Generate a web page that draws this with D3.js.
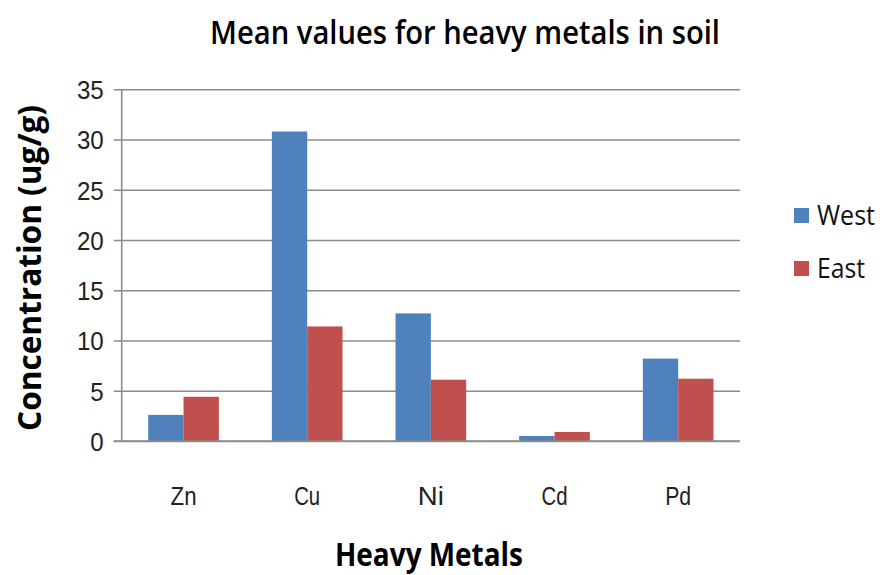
<!DOCTYPE html>
<html>
<head>
<meta charset="utf-8">
<script src="https://cdn.jsdelivr.net/npm/d3@7/dist/d3.min.js"></script>
<style>
  html, body { margin: 0; padding: 0; background: #fff; }
  svg { display: block; font-family: "Open Sans", "DejaVu Sans", sans-serif; }
</style>
</head>
<body>
<svg id="chart" width="880" height="575"></svg>
<script>
// Mean heavy-metal concentrations (ug/g) by site
const categories = ["Zn", "Cu", "Ni", "Cd", "Pd"];
const seriesNames = ["West", "East"];
const westValues = [2.6, 30.8, 12.7, 0.5, 8.2];
const eastValues = [4.4, 11.4, 6.1, 0.9, 6.2];
const yTicks = [0, 5, 10, 15, 20, 25, 30, 35];
const colors = { West: "#4F81BD", East: "#C0504D" };

const svg = d3.select("#chart");
const plot = { left: 121.7, right: 740, top: 89.3, bottom: 441 };

const y = d3.scaleLinear().domain([0, 35]).range([plot.bottom, plot.top]);
const x0 = d3.scaleBand().domain(categories).range([plot.left, plot.right]).padding(0);
const x1 = d3.scaleBand().domain(seriesNames).range([0, x0.bandwidth()])
  .paddingInner(0).paddingOuter(0.75);

const rows = categories.map((c, i) => ({ cat: c, West: westValues[i], East: eastValues[i] }));

// horizontal gridlines with short ticks left of the axis
const yAxis = d3.axisLeft(y).tickValues(yTicks)
  .tickSize(-(plot.right - plot.left)).tickSizeOuter(0).tickPadding(18);
const gy = svg.append("g").attr("transform", `translate(${plot.left},0)`).call(yAxis);
gy.select(".domain").remove();
gy.selectAll(".tick line")
  .attr("x1", -8)
  .attr("stroke", "#8c8c8c").attr("stroke-width", 1.6);
gy.selectAll(".tick text")
  .attr("font-size", 26).attr("fill", "#222")
  .attr("dy", "0.36em")
  .each(function () {
    const t = d3.select(this);
    t.attr("textLength", t.text().length * 13.4).attr("lengthAdjust", "spacingAndGlyphs");
  });

// vertical axis line
svg.append("line")
  .attr("x1", plot.left).attr("x2", plot.left)
  .attr("y1", y(35)).attr("y2", y(0))
  .attr("stroke", "#8c8c8c").attr("stroke-width", 1.6);

// bars
const groups = svg.append("g").selectAll("g").data(rows).join("g")
  .attr("transform", d => `translate(${x0(d.cat)},0)`);
groups.selectAll("rect")
  .data(d => seriesNames.map(s => ({ s, v: d[s] })))
  .join("rect")
  .attr("x", d => x1(d.s))
  .attr("width", x1.bandwidth())
  .attr("y", d => y(d.v))
  .attr("height", d => y(0) - y(d.v))
  .attr("fill", d => colors[d.s]);

// category axis
const xAxis = d3.axisBottom(x0).tickSize(0).tickPadding(0);
const gx = svg.append("g").attr("transform", `translate(0,${plot.bottom})`).call(xAxis);
gx.select(".domain").remove();
gx.selectAll(".tick text")
  .attr("font-size", 25).attr("fill", "#222")
  .attr("y", 64).attr("dy", 0)
  .each(function () {
    const t = d3.select(this);
    t.attr("textLength", t.text().length * 13).attr("lengthAdjust", "spacingAndGlyphs");
  });
svg.append("line")
  .attr("x1", plot.left - 8).attr("x2", plot.right)
  .attr("y1", plot.bottom).attr("y2", plot.bottom)
  .attr("stroke", "#8c8c8c").attr("stroke-width", 1.6);

// title
svg.append("text")
  .attr("x", 465).attr("y", 44)
  .attr("text-anchor", "middle")
  .attr("font-size", 32).attr("font-weight", 600).attr("fill", "#000")
  .attr("textLength", 510).attr("lengthAdjust", "spacingAndGlyphs")
  .text("Mean values for heavy metals in soil");

// axis titles
svg.append("text")
  .attr("x", 429).attr("y", 566)
  .attr("text-anchor", "middle")
  .attr("font-size", 32).attr("font-weight", 700).attr("fill", "#000")
  .attr("textLength", 188).attr("lengthAdjust", "spacingAndGlyphs")
  .text("Heavy Metals");

svg.append("text")
  .attr("transform", "translate(41,268) rotate(-90)")
  .attr("text-anchor", "middle")
  .attr("font-size", 32).attr("font-weight", 700).attr("fill", "#000")
  .attr("textLength", 326).attr("lengthAdjust", "spacingAndGlyphs")
  .text("Concentration (ug/g)");

// legend
const legend = svg.append("g").selectAll("g").data(seriesNames).join("g")
  .attr("transform", (d, i) => `translate(794,${208 + i * 53})`);
legend.append("rect").attr("width", 15).attr("height", 15).attr("fill", d => colors[d]);
legend.append("text")
  .attr("x", 23).attr("y", 7.5).attr("dy", "0.36em")
  .attr("font-size", 27).attr("fill", "#111")
  .attr("textLength", d => d === "West" ? 58 : 48).attr("lengthAdjust", "spacingAndGlyphs")
  .text(d => d);
</script>
</body>
</html>
